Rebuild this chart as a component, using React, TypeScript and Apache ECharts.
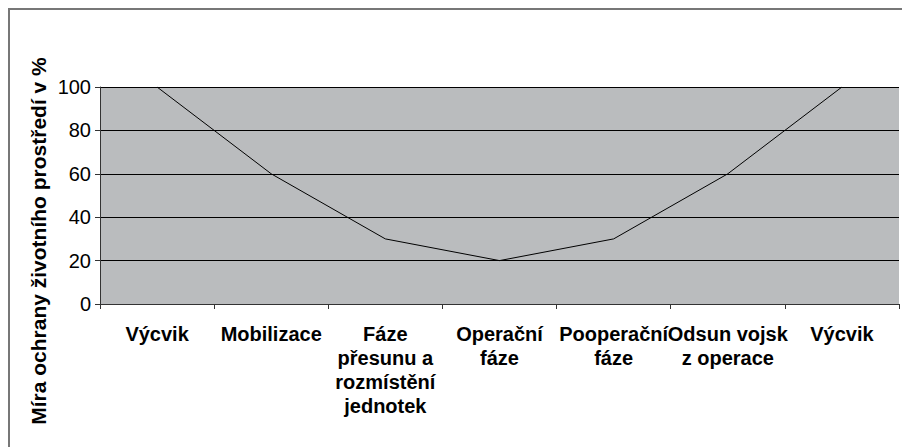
import React, { useEffect, useRef } from "react";
import * as echarts from "echarts";

const categories: string[] = [
  "Výcvik",
  "Mobilizace",
  "Fáze\npřesunu a\nrozmístění\njednotek",
  "Operační\nfáze",
  "Pooperační\nfáze",
  "Odsun vojsk\nz operace",
  "Výcvik",
];
const values: number[] = [100, 60, 30, 20, 30, 60, 100];
const yTitle = "Míra ochrany životního prostředí v %";

const FONT = "'Liberation Sans', Arial, sans-serif";

export default function App() {
  const ref = useRef<HTMLDivElement>(null);
  useEffect(() => {
    if (!ref.current) return;
    const chart = echarts.init(ref.current, null, { renderer: "svg" });
    chart.setOption({
      animation: false,
      backgroundColor: "#ffffff",
      grid: {
        left: 100,
        top: 87,
        width: 799,
        height: 217,
        show: true,
        backgroundColor: "#babcbe",
        borderWidth: 0,
        containLabel: false,
      },
      xAxis: {
        type: "category",
        data: categories,
        boundaryGap: true,
        axisLine: { show: true, lineStyle: { color: "#333333", width: 1 } },
        axisTick: { show: true, length: 5, alignWithLabel: false, interval: 0, lineStyle: { color: "#333333" } },
        axisLabel: {
          interval: 0,
          hideOverlap: false,
          margin: 18,
          color: "#000000",
          fontFamily: FONT,
          fontSize: 20,
          fontWeight: "bold",
          lineHeight: 24,
          align: "center",
          verticalAlign: "top",
        },
        splitLine: { show: false },
      },
      yAxis: {
        type: "value",
        min: 0,
        max: 100,
        interval: 20,
        axisLine: { show: true, lineStyle: { color: "#333333", width: 1 } },
        axisTick: { show: true, length: 5, lineStyle: { color: "#333333" } },
        axisLabel: {
          margin: 9,
          color: "#000000",
          fontFamily: FONT,
          fontSize: 20,
        },
        splitLine: { show: true, lineStyle: { color: "#000000", width: 1 } },
      },
      series: [
        {
          type: "line",
          data: values,
          symbol: "none",
          lineStyle: { color: "#000000", width: 1 },
          z: 3,
        },
      ],
      graphic: [
        {
          type: "rect",
          x: 9,
          y: 9,
          shape: { x: 0, y: 0, width: 2000, height: 2000 },
          style: { fill: "none", stroke: "#777777", lineWidth: 2 },
          silent: true,
        },
        {
          type: "text",
          x: 38,
          y: 241,
          rotation: Math.PI / 2,
          style: {
            text: yTitle,
            fontFamily: FONT,
            fontSize: 21,
            fontWeight: "bold",
            fill: "#000000",
            textAlign: "center",
            textVerticalAlign: "middle",
          },
        },
      ],
    });
    return () => chart.dispose();
  }, []);
  return (
    <div
      ref={ref}
      style={{ position: "fixed", left: 0, top: 0, width: 902, height: 447 }}
    />
  );
}
